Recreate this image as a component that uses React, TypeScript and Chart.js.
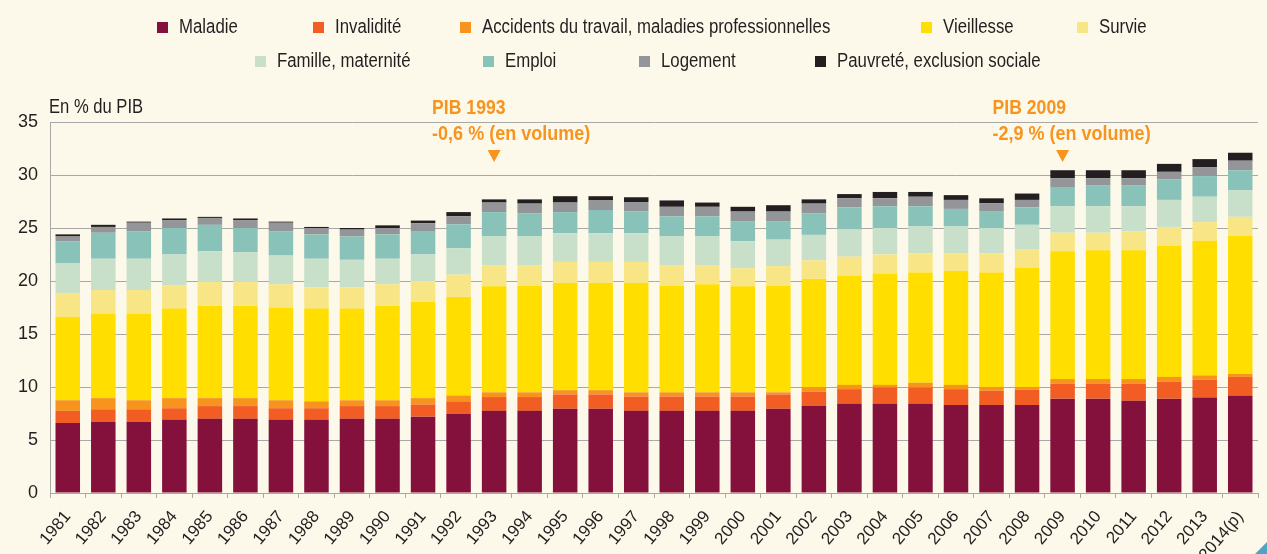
import React, { useEffect, useRef } from "react";
import { Chart, registerables } from "chart.js";

Chart.register(...registerables);

// ---------- DATA ----------
const YEARS = [
  "1981", "1982", "1983", "1984", "1985", "1986", "1987", "1988", "1989", "1990",
  "1991", "1992", "1993", "1994", "1995", "1996", "1997", "1998", "1999", "2000",
  "2001", "2002", "2003", "2004", "2005", "2006", "2007", "2008", "2009", "2010",
  "2011", "2012", "2013", "2014(p)",
];

const MALADIE = [
  6.6, 6.7, 6.7, 6.9, 7.0, 7.0, 6.9, 6.9, 7.0, 7.0,
  7.2, 7.45, 7.75, 7.75, 7.95, 7.95, 7.75, 7.75, 7.75, 7.75,
  7.95, 8.2, 8.45, 8.45, 8.45, 8.3, 8.3, 8.3, 8.9, 8.9,
  8.7, 8.9, 9.0, 9.2,
];
const INVALIDITE = [
  1.15, 1.2, 1.2, 1.1, 1.2, 1.2, 1.1, 1.1, 1.2, 1.2,
  1.15, 1.2, 1.3, 1.3, 1.35, 1.35, 1.35, 1.35, 1.35, 1.35,
  1.35, 1.35, 1.35, 1.5, 1.5, 1.5, 1.35, 1.45, 1.4, 1.4,
  1.6, 1.6, 1.7, 1.75,
];
const ACCIDENTS = [
  1.0, 1.05, 0.85, 0.95, 0.75, 0.75, 0.75, 0.65, 0.55, 0.55,
  0.6, 0.55, 0.45, 0.45, 0.4, 0.4, 0.4, 0.4, 0.4, 0.4,
  0.2, 0.45, 0.4, 0.25, 0.45, 0.4, 0.35, 0.25, 0.45, 0.45,
  0.45, 0.45, 0.4, 0.3,
];
const VIEILLESSE = [
  7.85, 7.95, 8.15, 8.45, 8.7, 8.7, 8.75, 8.75, 8.65, 8.9,
  9.1, 9.3, 10.0, 10.05, 10.1, 10.1, 10.3, 10.05, 10.2, 10.0,
  10.05, 10.2, 10.3, 10.5, 10.4, 10.75, 10.8, 11.25, 12.05, 12.15,
  12.15, 12.35, 12.7, 13.0,
];
const SURVIE = [
  2.2, 2.25, 2.25, 2.2, 2.25, 2.25, 2.2, 2.0, 2.0, 2.05,
  1.95, 2.1, 2.0, 1.95, 2.0, 2.0, 2.0, 1.95, 1.8, 1.7,
  1.85, 1.75, 1.8, 1.8, 1.8, 1.65, 1.8, 1.7, 1.75, 1.65,
  1.8, 1.8, 1.75, 1.8,
];
const FAMILLE = [
  2.85, 2.95, 2.95, 2.9, 2.9, 2.8, 2.7, 2.7, 2.6, 2.4,
  2.5, 2.5, 2.7, 2.7, 2.7, 2.7, 2.7, 2.7, 2.7, 2.55,
  2.5, 2.4, 2.55, 2.5, 2.55, 2.55, 2.4, 2.35, 2.5, 2.5,
  2.35, 2.55, 2.4, 2.5,
];
const EMPLOI = [
  2.1, 2.45, 2.6, 2.5, 2.5, 2.3, 2.3, 2.3, 2.2, 2.3,
  2.15, 2.25, 2.3, 2.2, 2.0, 2.2, 2.05, 1.9, 1.9, 1.9,
  1.75, 2.05, 2.1, 2.05, 1.9, 1.65, 1.6, 1.65, 1.75, 1.95,
  1.95, 1.95, 1.95, 1.9,
];
const LOGEMENT = [
  0.45, 0.55, 0.8, 0.75, 0.65, 0.75, 0.8, 0.6, 0.65, 0.6,
  0.8, 0.75, 0.9, 0.9, 0.9, 0.9, 0.9, 0.9, 0.9, 0.9,
  0.9, 0.9, 0.85, 0.75, 0.9, 0.85, 0.75, 0.7, 0.9, 0.7,
  0.7, 0.7, 0.85, 0.9,
];
const PAUVRETE = [
  0.2, 0.2, 0.1, 0.15, 0.1, 0.15, 0.1, 0.1, 0.15, 0.25,
  0.25, 0.4, 0.3, 0.4, 0.6, 0.4, 0.45, 0.6, 0.4, 0.45,
  0.6, 0.4, 0.4, 0.6, 0.45, 0.45, 0.45, 0.6, 0.75, 0.75,
  0.75, 0.75, 0.75, 0.75,
];

const SERIES_NAMES = [
  "Maladie",
  "Invalidité",
  "Accidents du travail, maladies professionnelles",
  "Vieillesse",
  "Survie",
  "Famille, maternité",
  "Emploi",
  "Logement",
  "Pauvreté, exclusion sociale",
];
const SERIES_VALUES = [
  MALADIE, INVALIDITE, ACCIDENTS, VIEILLESSE, SURVIE, FAMILLE, EMPLOI, LOGEMENT, PAUVRETE,
];

const Y_MIN = 0;
const Y_MAX = 35;
const Y_STEP = 5;
const Y_TITLE = "En % du PIB";

const ANNOTATIONS = [
  { year: "1993", title: "PIB 1993", note: "-0,6 % (en volume)" },
  { year: "2009", title: "PIB 2009", note: "-2,9 % (en volume)" },
];

// ---------- STYLE ----------
const COLORS = [
  "#84113C", "#F15D22", "#F7941E", "#FFDE00", "#F8E585",
  "#C8E0CA", "#89C2B9", "#939598", "#231F20",
];
const BG = "#FDF9EA";
const GRID = "#A8A8A8";
const TEXT = "#231F20";
const ORANGE = "#F7941E";
const FONT = '"Liberation Sans", Arial, sans-serif';
const NARROW = 0.84;

// legend layout (x of square, y of square) per series
const LEGEND_POS: [number, number][] = [
  [157, 22], [313, 22], [460, 22], [921, 22], [1077, 22],
  [255, 56], [483, 56], [639, 56], [815, 56],
];
const NOTE_DX = [-62, -70];

function narrowText(ctx: CanvasRenderingContext2D, text: string, x: number, y: number, sx: number) {
  ctx.save();
  ctx.translate(x, y);
  ctx.scale(sx, 1);
  ctx.fillText(text, 0, 0);
  ctx.restore();
}

const annotationPlugin = {
  id: "pibNotes",
  afterDatasetsDraw(chart: any) {
    const { ctx, chartArea } = chart;
    const xs = chart.scales.x;
    ANNOTATIONS.forEach((a, i) => {
      const idx = YEARS.indexOf(a.year);
      const cx = xs.getPixelForValue(idx);
      const top = chartArea.top;
      ctx.save();
      ctx.fillStyle = ORANGE;
      ctx.font = `bold 20px ${FONT}`;
      ctx.textBaseline = "alphabetic";
      ctx.textAlign = "left";
      const tx = cx + NOTE_DX[i];
      narrowText(ctx, a.title, tx, top - 8, 0.88);
      narrowText(ctx, a.note, tx, top + 18, 0.9);
      ctx.beginPath();
      ctx.moveTo(cx - 6.5, top + 28);
      ctx.lineTo(cx + 6.5, top + 28);
      ctx.lineTo(cx, top + 40);
      ctx.closePath();
      ctx.fill();
      ctx.restore();
    });
  },
};

export default function App() {
  const canvasRef = useRef<HTMLCanvasElement | null>(null);

  useEffect(() => {
    document.body.style.margin = "0";
    document.body.style.background = BG;
    const canvas = canvasRef.current;
    if (!canvas) return;
    const chart = new Chart(canvas, {
      type: "bar",
      data: {
        labels: YEARS,
        datasets: SERIES_NAMES.map((name, i) => ({
          label: name,
          data: SERIES_VALUES[i],
          backgroundColor: COLORS[i],
          borderWidth: 0,
          categoryPercentage: 1,
          barPercentage: 0.69,
        })),
      },
      options: {
        responsive: false,
        animation: false,
        devicePixelRatio: 1,
        layout: { padding: { top: 122, left: 0, right: 9, bottom: 0 } },
        plugins: {
          legend: { display: false },
          tooltip: { enabled: false },
          title: { display: false },
        },
        scales: {
          x: {
            stacked: true,
            grid: {
              display: true,
              drawOnChartArea: false,
              drawTicks: true,
              tickLength: 5,
              color: GRID,
              offset: true,
            },
            border: { display: true, color: GRID, width: 1 },
            ticks: {
              color: TEXT,
              font: { family: FONT, size: 17 },
              minRotation: 50,
              maxRotation: 50,
              padding: 9,
              autoSkip: false,
            },
            afterFit: (s: any) => {
              s.height = 61;
            },
          },
          y: {
            stacked: true,
            min: Y_MIN,
            max: Y_MAX,
            ticks: {
              stepSize: Y_STEP,
              color: TEXT,
              font: { family: FONT, size: 18 },
              padding: 12,
            },
            grid: { color: GRID, drawTicks: false, lineWidth: 1 },
            border: { display: true, color: GRID, width: 1 },
            afterFit: (s: any) => {
              s.width = 50;
            },
          },
        },
      },
      plugins: [annotationPlugin],
    });
    return () => chart.destroy();
  }, []);

  return (
    <div
      style={{
        position: "absolute",
        left: 0,
        top: 0,
        width: 1267,
        height: 554,
        background: BG,
        overflow: "hidden",
        fontFamily: FONT,
        color: TEXT,
      }}
    >
      <canvas ref={canvasRef} width={1267} height={554} style={{ position: "absolute", left: 0, top: 0 }} />
      {SERIES_NAMES.map((name, i) => (
        <div
          key={name}
          style={{
            position: "absolute",
            left: LEGEND_POS[i][0],
            top: LEGEND_POS[i][1],
            height: 11,
            display: "flex",
            alignItems: "center",
            whiteSpace: "nowrap",
          }}
        >
          <span style={{ width: 11, height: 11, background: COLORS[i], display: "inline-block", flex: "none" }} />
          <span
            style={{
              marginLeft: 11,
              fontSize: 20,
              lineHeight: 1,
              display: "inline-block",
              position: "relative",
              top: -2,
              transform: `scaleX(${NARROW})`,
              transformOrigin: "left center",
            }}
          >
            {name}
          </span>
        </div>
      ))}
      <div
        style={{
          position: "absolute",
          left: 49,
          top: 96,
          fontSize: 20,
          lineHeight: 1,
          whiteSpace: "nowrap",
          transform: "scaleX(0.83)",
          transformOrigin: "left center",
        }}
      >
        {Y_TITLE}
      </div>
      <div
        style={{
          position: "absolute",
          right: 0,
          bottom: 0,
          width: 0,
          height: 0,
          borderStyle: "solid",
          borderWidth: "0 0 12px 12px",
          borderColor: "transparent transparent #4FA3C4 transparent",
        }}
      />
    </div>
  );
}
